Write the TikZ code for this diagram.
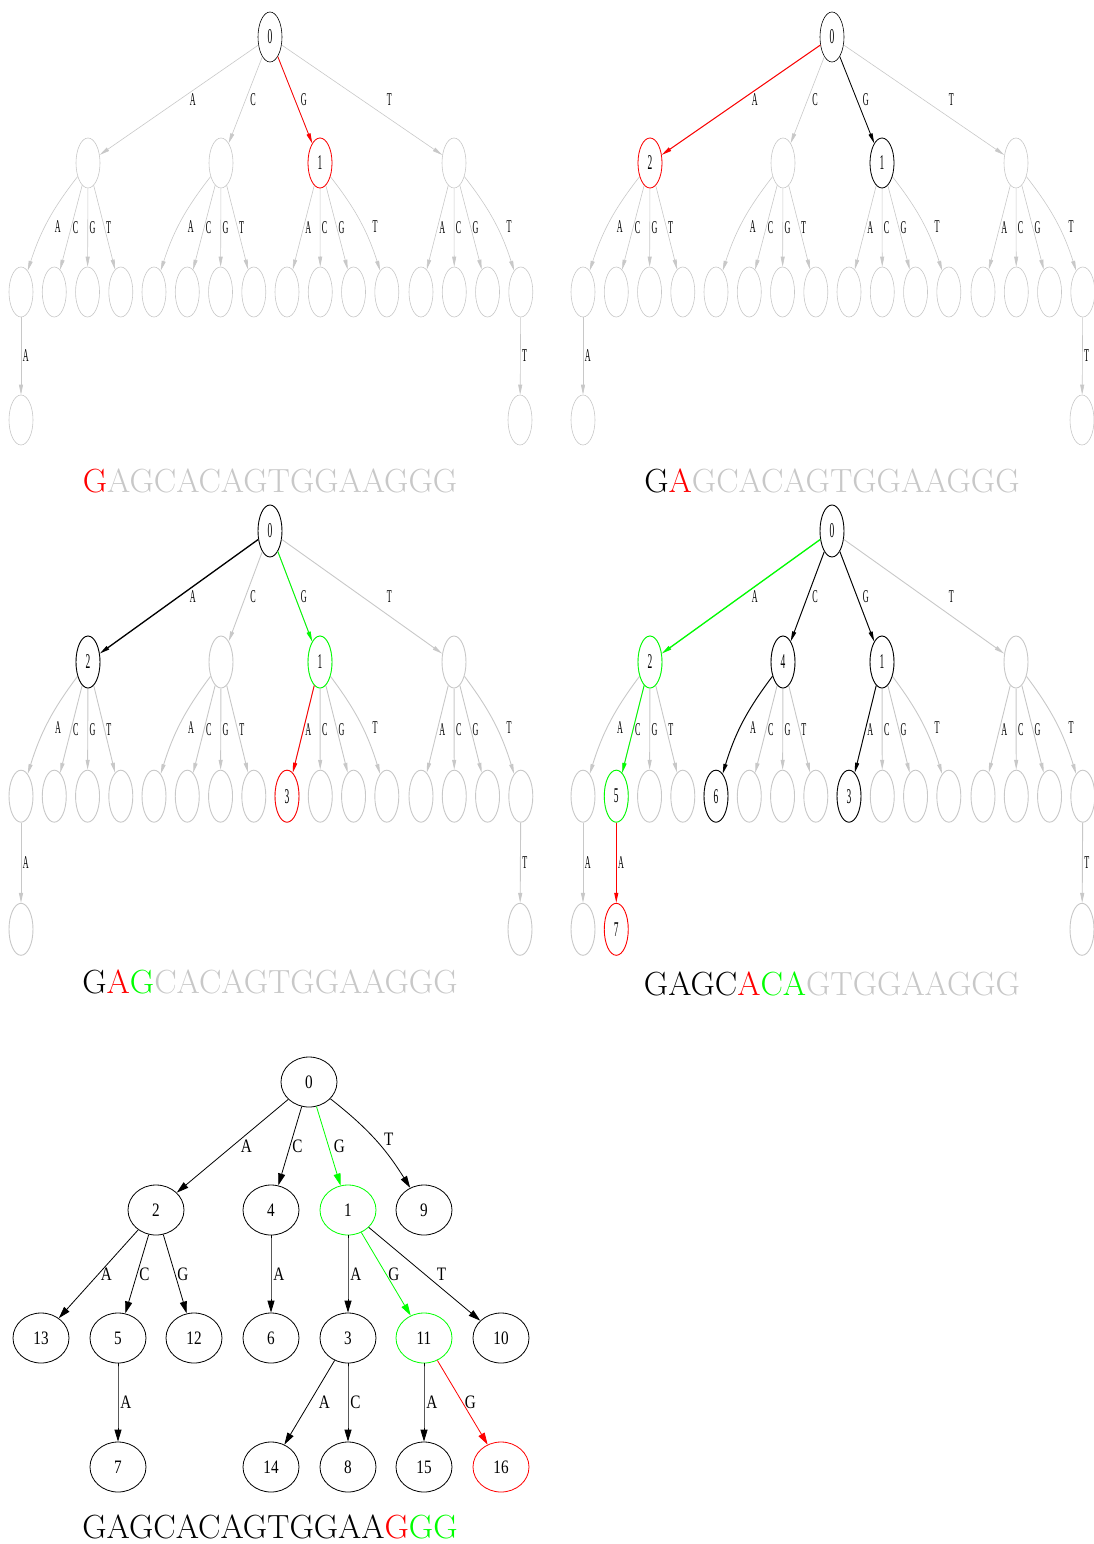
\documentclass[tikz,border=0pt]{standalone}
\usepackage{fontspec}
\usepackage{tikz}
\usetikzlibrary{shapes.geometric}
\usetikzlibrary{arrows.meta}
\newfontfamily\gvthin[FakeStretch=0.45]{Liberation Serif}
\newfontfamily\gvwide[FakeStretch=0.8]{Liberation Serif}
\definecolor{gvgray}{RGB}{200,200,200}
\definecolor{gvred}{RGB}{255,0,0}
\definecolor{gvgreen}{RGB}{0,255,0}
\tikzset{
  tnode/.style={ellipse, draw=gvgray, fill=white, minimum width=24pt, minimum height=50pt,
    inner sep=0pt, font=\gvthin\fontsize{21}{21}\selectfont},
  tall/.style={minimum height=52pt},
  tedge/.style={gvgray, -{Triangle[length=10pt,width=4pt]}},
  tlab/.style={midway, right, inner sep=1.5pt, text=black, font=\gvthin\fontsize{18}{18}\selectfont},
  fnode/.style={ellipse, draw, minimum width=56pt, minimum height=50pt, inner sep=0pt,
    font=\gvwide\fontsize{19}{19}\selectfont},
  fedge/.style={-{Triangle[length=12pt,width=7pt]}},
  flab/.style={midway, right, inner sep=2pt, text=black, font=\gvwide\fontsize{19}{19}\selectfont},
  seq/.style={anchor=base, inner sep=0pt, font=\fontsize{33.5}{40}\selectfont}
}

\begin{document}
\begin{tikzpicture}[x=1pt,y=-1pt,line width=0.8pt]
  \useasboundingbox (0,0) rectangle (1094,1544);
  % the same empty trie for the four search steps
  \foreach \p/\dx/\dy/\s/\lw in {st1/0/0/1/0.6, st2/562/0/1/0.6, st3/0/492.5/1.04/0.9, st4/562/492.5/1.04/0.9} {
    \pgfmathsetmacro\nh{50*\s}
    \begin{scope}[shift={(\dx,\dy)}, yscale=\s, line width=\lw pt, tnode/.append style={minimum height=\nh pt}]
      \node[tnode, draw=black] (\p-0) at (270,37) {0};
      \foreach \u/\ux in {A/88, C/221, G/320, T/454}
        \node[tnode] (\p-\u) at (\ux,163) {};
      \foreach \u/\bx in {A/21, C/154, G/287, T/421}
        \foreach \v/\k in {A/0, C/1, G/2, T/3}
          \node[tnode] (\p-\u\v) at (\bx+33.27*\k,292) {};
      \node[tnode] (\p-AAA) at (21,420) {};
      \node[tnode] (\p-TTT) at (520,420) {};
      \foreach \u/\sh in {A/9, C/3, G/4, T/23}
        \draw[tedge] (\p-0) -- (\p-\u) node[tlab, xshift=\sh pt] {\u};
      \foreach \u/\ba/\bt in {A/10/0, C/10/0, G/0/10, T/0/10}
        \foreach \v/\b in {A/-\ba, C/0, G/0, T/\bt} {
          \pgfmathsetmacro\ls{abs(\b)>0 ? 8 : 0}
          \pgfmathsetmacro\lp{abs(\b)>0 ? 0.56 : 0.5}
          \draw[tedge] (\p-\u) to[bend left=\b] node[tlab, pos=\lp, xshift=\ls pt] {\v} (\p-\u\v);
        }
      \draw[tedge] (\p-AA) -- (\p-AAA) node[tlab] {A};
      \draw[tedge] (\p-TT) -- (\p-TTT) node[tlab] {T};
    \end{scope}
  }

  % step 1
  \node[tnode, draw=gvred] (st1-G) at (st1-G) {1};
  \draw[tedge, gvred] (st1-0) -- (st1-G);
  \node[seq] (txt1) at (270,492) {\textcolor{gvred}{G}\textcolor{gvgray}{AGCACAGTGGAAGGG}};

  % step 2
  \node[tnode, draw=gvred] (st2-A) at (st2-A) {2};
  \node[tnode, draw=black] (st2-G) at (st2-G) {1};
  \draw[tedge, gvred, line width=1pt] (st2-0) -- (st2-A);
  \draw[tedge, black] (st2-0) -- (st2-G);
  \node[seq] (txt2) at (832,492) {G\textcolor{gvred}{A}\textcolor{gvgray}{GCACAGTGGAAGGG}};

  \begin{scope}[line width=0.9pt]
    % step 3
    \node[tnode, tall, draw=black] (st3-A) at (st3-A) {2};
    \node[tnode, tall, draw=gvgreen] (st3-G) at (st3-G) {1};
    \node[tnode, tall, draw=gvred] (st3-GA) at (st3-GA) {3};
    \draw[tedge, black, line width=1.3pt] (st3-0) -- (st3-A);
    \draw[tedge, gvgreen] (st3-0) -- (st3-G);
    \draw[tedge, gvred] (st3-G) -- (st3-GA);

    % step 4
    \node[tnode, tall, draw=gvgreen] (st4-A) at (st4-A) {2};
    \node[tnode, tall, draw=black] (st4-C) at (st4-C) {4};
    \node[tnode, tall, draw=black] (st4-G) at (st4-G) {1};
    \node[tnode, tall, draw=gvgreen] (st4-AC) at (st4-AC) {5};
    \node[tnode, tall, draw=black] (st4-CA) at (st4-CA) {6};
    \node[tnode, tall, draw=black] (st4-GA) at (st4-GA) {3};
    \node[tnode, tall, draw=gvred] (st4-ACA) at (st4-AC |- st4-AAA) {7};
    \draw[tedge, gvgreen, line width=1.3pt] (st4-0) -- (st4-A);
    \draw[tedge, black] (st4-0) -- (st4-C);
    \draw[tedge, black] (st4-0) -- (st4-G);
    \draw[tedge, gvgreen] (st4-A) -- (st4-AC);
    \draw[tedge, black] (st4-C) to[bend left=-10] (st4-CA);
    \draw[tedge, black] (st4-G) -- (st4-GA);
    \draw[tedge, gvred] (st4-AC) -- (st4-ACA) node[tlab] {A};
  \end{scope}
  \node[seq] (txt3) at (270,993) {G\textcolor{gvred}{A}\textcolor{gvgreen}{G}\textcolor{gvgray}{CACAGTGGAAGGG}};
  \node[seq] (txt4) at (832,995) {GAGC\textcolor{gvred}{A}\textcolor{gvgreen}{CA}\textcolor{gvgray}{GTGGAAGGG}};

  % final trie
  \node[fnode] (f) at (309,1082) {0};
  \foreach \n/\x/\t/\c in {A/156/2/black, C/271/4/black, G/348/1/gvgreen, T/424/9/black}
    \node[fnode, draw=\c] (f\n) at (\x,1210) {\t};
  \foreach \n/\x/\t/\c in {AA/41/13/black, AC/118/5/black, AG/194/12/black, CA/271/6/black,
                           GA/348/3/black, GG/424/11/gvgreen, GT/501/10/black}
    \node[fnode, draw=\c] (f\n) at (\x,1338) {\t};
  \foreach \n/\x/\t/\c in {ACA/118/7/black, GAA/271/14/black, GAC/348/8/black,
                           GGA/424/15/black, GGG/501/16/gvred}
    \node[fnode, draw=\c] (f\n) at (\x,1467) {\t};
  \foreach \a/\b/\l/\c/\bd/\sh in {/A/A/black/0/6, /C/C/black/0/0, /G/G/gvgreen/0/3, /T/T/black/10/7,
      A/AA/A/black/0/0, A/AC/C/black/0/0, A/AG/G/black/0/0, C/CA/A/black/0/0,
      G/GA/A/black/0/0, G/GG/G/gvgreen/0/0, G/GT/T/black/0/10,
      AC/ACA/A/black/0/0, GA/GAA/A/black/0/7, GA/GAC/C/black/0/0,
      GG/GGA/A/black/0/0, GG/GGG/G/gvred/0/0}
    \draw[fedge, \c] (f\a) to[bend left=\bd] node[flab, xshift=\sh pt] {\l} (f\b);
  \node[seq] (txt5) at (270,1538) {GAGCACAGTGGAA\textcolor{gvred}{G}\textcolor{gvgreen}{GG}};
\end{tikzpicture}
\end{document}
